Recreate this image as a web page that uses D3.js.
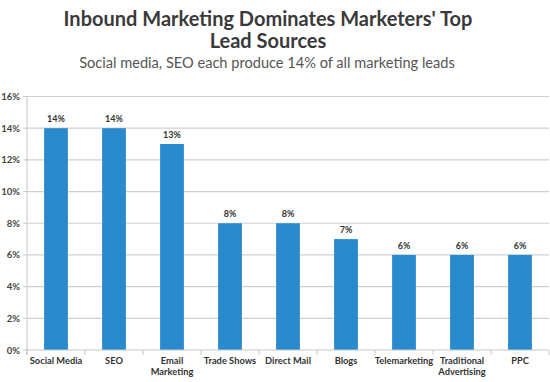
<!DOCTYPE html>
<html><head><meta charset="utf-8">
<script src="https://cdn.jsdelivr.net/npm/d3@7"></script>
<style>body{margin:0;background:#fff}svg{display:block}</style>
</head><body>
<svg id="c" width="550" height="382"></svg>
<script>
const categories = [["Social Media"],["SEO"],["Email","Marketing"],["Trade Shows"],["Direct Mail"],["Blogs"],["Telemarketing"],["Traditional","Advertising"],["PPC"]];
const values = [14,14,13,8,8,7,6,6,6];
const yTicks = [0,2,4,6,8,10,12,14,16];

const svg = d3.select("#c");
const font = "Lato, 'Open Sans', sans-serif";
const m = {l:27, r:549, t:96.5, b:350};
const x = d3.scaleBand().domain(d3.range(categories.length)).range([m.l, m.r]).paddingInner(0.59).paddingOuter(0.295);
const y = d3.scaleLinear().domain([0,16]).range([m.b, m.t]);

// title
svg.append("text").attr("x",268).attr("y",26).attr("text-anchor","middle").attr("font-family",font).attr("font-weight",700).attr("font-size",20).attr("fill","#3a3a3a").text("Inbound Marketing Dominates Marketers' Top");
svg.append("text").attr("x",268).attr("y",48).attr("text-anchor","middle").attr("font-family",font).attr("font-weight",700).attr("font-size",20).attr("fill","#3a3a3a").text("Lead Sources");
svg.append("text").attr("x",267).attr("y",68).attr("text-anchor","middle").attr("font-family",font).attr("font-size",14.6).attr("fill","#555").text("Social media, SEO each produce 14% of all marketing leads");

// grid
svg.append("g").selectAll("line").data(yTicks.filter(d=>d>0)).join("line")
  .attr("x1",m.l).attr("x2",m.r).attr("y1",d=>y(d)).attr("y2",d=>y(d))
  .attr("stroke","#d0d0d0").attr("stroke-width",1.2);
// y axis line
svg.append("line").attr("x1",m.l).attr("x2",m.l).attr("y1",m.t).attr("y2",m.b+5).attr("stroke","#c8c8c8");
// y labels
svg.append("g").selectAll("text").data(yTicks).join("text")
  .attr("x",20).attr("y",d=>y(d)+3.5).attr("text-anchor","end")
  .attr("font-family",font).attr("font-weight",700).attr("font-size",9.5).attr("fill","#444")
  .text(d=>d+"%");
// y tick marks
svg.append("g").selectAll("line").data(yTicks).join("line")
  .attr("x1",m.l-4).attr("x2",m.l).attr("y1",d=>y(d)).attr("y2",d=>y(d)).attr("stroke","#c8c8c8");

// bars
svg.append("g").selectAll("rect").data(values).join("rect")
  .attr("x",(d,i)=>x(i)).attr("width",x.bandwidth())
  .attr("y",d=>y(d)).attr("height",d=>m.b-y(d)).attr("fill","#2a8ace");

// x axis
svg.append("line").attr("x1",m.l).attr("x2",m.r).attr("y1",m.b).attr("y2",m.b).attr("stroke","#c8c8c8").attr("stroke-width",1.2);
const step = x.step();
svg.append("g").selectAll("line").data(d3.range(categories.length+1)).join("line")
  .attr("x1",i=>m.l+i*step).attr("x2",i=>m.l+i*step).attr("y1",m.b).attr("y2",m.b+5).attr("stroke","#c8c8c8");

// value labels
svg.append("g").selectAll("text").data(values).join("text")
  .attr("x",(d,i)=>x(i)+x.bandwidth()/2).attr("y",d=>y(d)-6).attr("text-anchor","middle")
  .attr("font-family",font).attr("font-weight",700).attr("font-size",9).attr("fill","#333")
  .text(d=>d+"%");

// category labels
const cl = svg.append("g").selectAll("text").data(categories).join("text")
  .attr("x",(d,i)=>x(i)+x.bandwidth()/2).attr("y",364).attr("text-anchor","middle")
  .attr("font-family",font).attr("font-weight",700).attr("font-size",9.3).attr("fill","#333");
cl.selectAll("tspan").data(d=>d).join("tspan")
  .attr("x",function(){return this.parentNode.getAttribute("x");})
  .attr("dy",(d,i)=>i?10.5:0).text(d=>d);
</script>
</body></html>
